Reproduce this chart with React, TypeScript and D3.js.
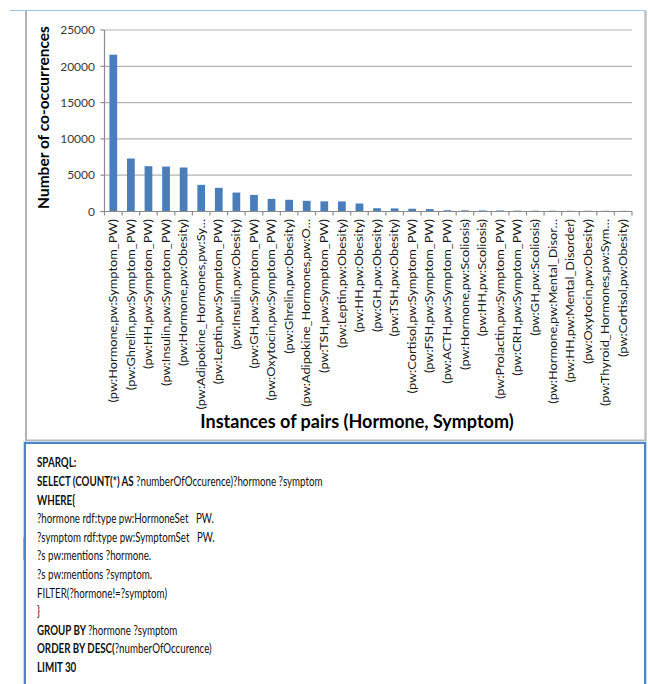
import React from "react";
import * as d3 from "d3";

const categories = [
  "(pw:Hormone,pw:Symptom_PW)",
  "(pw:Ghrelin,pw:Symptom_PW)",
  "(pw:HH,pw:Symptom_PW)",
  "(pw:Insulin,pw:Symptom_PW)",
  "(pw:Hormone,pw:Obesity)",
  "(pw:Adipokine_Hormones,pw:Sy…",
  "(pw:Leptin,pw:Symptom_PW)",
  "(pw:Insulin,pw:Obesity)",
  "(pw:GH,pw:Symptom_PW)",
  "(pw:Oxytocin,pw:Symptom_PW)",
  "(pw:Ghrelin,pw:Obesity)",
  "(pw:Adipokine_Hormones,pw:O…",
  "(pw:TSH,pw:Symptom_PW)",
  "(pw:Leptin,pw:Obesity)",
  "(pw:HH,pw:Obesity)",
  "(pw:GH,pw:Obesity)",
  "(pw:TSH,pw:Obesity)",
  "(pw:Cortisol,pw:Symptom_PW)",
  "(pw:FSH,pw:Symptom_PW)",
  "(pw:ACTH,pw:Symptom_PW)",
  "(pw:Hormone,pw:Scoliosis)",
  "(pw:HH,pw:Scoliosis)",
  "(pw:Prolactin,pw:Symptom_PW)",
  "(pw:CRH,pw:Symptom_PW)",
  "(pw:GH,pw:Scoliosis)",
  "(pw:Hormone,pw:Mental_Disor…",
  "(pw:HH,pw:Mental_Disorder)",
  "(pw:Oxytocin,pw:Obesity)",
  "(pw:Thyroid_Hormones,pw:Sym…",
  "(pw:Cortisol,pw:Obesity)",
];

const values = [
  21600, 7300, 6240, 6190, 6060, 3670, 3260, 2610, 2290, 1740,
  1610, 1470, 1400, 1390, 1100, 450, 430, 380, 330, 170,
  160, 150, 140, 120, 110, 110, 100, 100, 100, 90,
];

const yTicks = [0, 5000, 10000, 15000, 20000, 25000];

const yTitle = "Number of co-occurrences";
const xTitle = "Instances of pairs (Hormone, Symptom)";

// each line: list of [text, bold]
const sparqlLines: [string, boolean][][] = [
  [["SPARQL:", true]],
  [["SELECT (COUNT(*) AS ", true], ["?numberOfOccurence)?hormone ?symptom", false]],
  [["WHERE{", true]],
  [["?hormone rdf:type pw:HormoneSet\u00a0\u00a0 PW.", false]],
  [["?symptom rdf:type pw:SymptomSet\u00a0\u00a0 PW.", false]],
  [["?s pw:mentions ?hormone.", false]],
  [["?s pw:mentions ?symptom.", false]],
  [["FILTER(?hormone!=?symptom)", false]],
  [["}", false]],
  [["GROUP BY ", true], ["?hormone ?symptom", false]],
  [["ORDER BY DESC(", true], ["?numberOfOccurence)", false]],
  [["LIMIT 30", true]],
];

const FONT = "Lato, 'Open Sans', sans-serif";

export default function App() {
  const W = 648;
  const H = 684;
  const left = 104.5;
  const right = 632;
  const top = 30;
  const bottom = 211.5;

  const x = d3.scaleBand<string>().domain(categories).range([left, right]).padding(0);
  const y = d3.scaleLinear().domain([0, 25000]).range([bottom, top]);
  const barW = x.bandwidth() * 0.44;

  const boundaries = d3.range(categories.length + 1).map((i) => left + i * x.step());

  return (
    <svg
      width={W}
      height={H}
      style={{ position: "absolute", left: 0, top: 0, background: "#fff" }}
      fontFamily={FONT}
    >
      {/* chart frame */}
      <line x1={10} x2={646} y1={10.5} y2={10.5} stroke="#9fc2e8" strokeWidth={1.2} />
      <line x1={26} x2={26} y1={11} y2={441} stroke="#b4b4b4" strokeWidth={2} />
      <line x1={645.5} x2={645.5} y1={11} y2={441} stroke="#c0c0c0" strokeWidth={2.5} />
      <line x1={26} x2={645} y1={440.5} y2={440.5} stroke="#b4b4b4" strokeWidth={2} />

      {/* gridlines */}
      {yTicks.slice(1).map((t) => (
        <line key={t} x1={left} x2={right} y1={y(t)} y2={y(t)} stroke="#b3b3b3" strokeWidth={1.2} />
      ))}

      {/* bars */}
      {categories.map((c, i) => (
        <rect
          key={c}
          x={(x(c) as number) + (x.bandwidth() - barW) / 2}
          y={y(values[i])}
          width={barW}
          height={bottom - y(values[i])}
          fill="#4a7ebb"
        />
      ))}

      {/* axes */}
      <line x1={left} x2={left} y1={top} y2={bottom} stroke="#8c8c8c" strokeWidth={1.2} />
      <line x1={left - 4} x2={right} y1={bottom} y2={bottom} stroke="#8c8c8c" strokeWidth={1.2} />
      {yTicks.map((t) => (
        <line key={"yt" + t} x1={left - 4} x2={left} y1={y(t)} y2={y(t)} stroke="#8c8c8c" strokeWidth={1.2} />
      ))}
      {boundaries.map((b, i) => (
        <line key={"xt" + i} x1={b} x2={b} y1={bottom} y2={bottom + 4} stroke="#8c8c8c" strokeWidth={1.2} />
      ))}

      {/* y tick labels */}
      {yTicks.map((t) => (
        <text
          key={"yl" + t}
          x={95}
          y={y(t)}
          dy="0.35em"
          textAnchor="end"
          fontSize={12}
          fill="#3a3a3a"
        >
          {t}
        </text>
      ))}

      {/* x labels */}
      {categories.map((c) => (
        <text
          key={"xl" + c}
          transform={`translate(${(x(c) as number) + x.bandwidth() / 2},219) rotate(-90) scale(1.22,1)`}
          dy="0.35em"
          textAnchor="end"
          fontSize={10.5}
          fill="#1a1a1a"
        >
          {c}
        </text>
      ))}

      {/* titles */}
      <text
        transform={`translate(44,117.5) rotate(-90)`}
        dy="0.35em"
        textAnchor="middle"
        fontSize={15.5}
        fontWeight="bold"
        fill="#000"
      >
        {yTitle}
      </text>
      <text x={357} y={428} textAnchor="middle" fontSize={18} fontWeight="bold" fill="#000">
        {xTitle}
      </text>

      {/* SPARQL box */}
      <rect x={25} y={443} width={620} height={260} fill="#fff" stroke="#c9dcf2" strokeWidth={4} />
      <rect x={25} y={443} width={620} height={260} fill="#fff" stroke="#4a86c8" strokeWidth={2} />
      <line x1={23.5} x2={23.5} y1={537} y2={560} stroke="#c8a478" strokeWidth={1} />
      <g transform="translate(37,0) scale(0.75,1)">
        {sparqlLines.map((segs, i) => (
          <text key={"sq" + i} x={0} y={467.5 + i * 18.6} fontSize={13} fill="#111">
            {segs.map(([t, b], j) => (
              <tspan key={j} fontWeight={b ? "bold" : "normal"}>
                {t}
              </tspan>
            ))}
          </text>
        ))}
      </g>
    </svg>
  );
}
